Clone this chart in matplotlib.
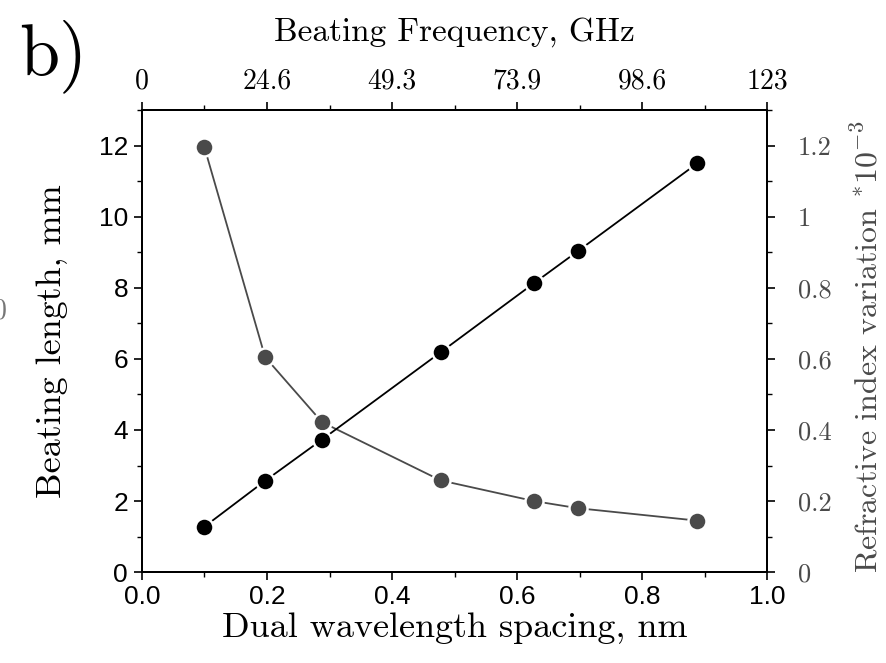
"""
Beating length / refractive index variation vs dual wavelength spacing
"""
import matplotlib
matplotlib.use('Agg')
import matplotlib.pyplot as plt
from matplotlib.ticker import MultipleLocator, FixedLocator

plt.rcParams['mathtext.fontset'] = 'cm'

# data
spacing_nm = [0.10, 0.197, 0.288, 0.478, 0.627, 0.697, 0.888]
beat_len_mm = [11.95, 6.05, 4.22, 2.58, 2.00, 1.80, 1.45]
dn_1e3 = [0.128, 0.257, 0.373, 0.619, 0.813, 0.903, 1.150]

x_ticks = [0.0, 0.2, 0.4, 0.6, 0.8, 1.0]
x_labels = ['0.0', '0.2', '0.4', '0.6', '0.8', '1.0']
freq_labels = ['0', '24.6', '49.3', '73.9', '98.6', '123']
dn_ticks = [0, 0.2, 0.4, 0.6, 0.8, 1.0, 1.2]
dn_labels = ['0', '0.2', '0.4', '0.6', '0.8', '1', '1.2']

SERIF = 'cmr10'
SANS = 'Liberation Sans'
GREY = '#4a4a4a'

fig = plt.figure(figsize=(8.87, 6.63), dpi=100)
ax = fig.add_axes([0.160, 0.137, 0.705, 0.697])
ax2 = ax.twinx()
ax3 = ax.twiny()

# beating length (grey, left axis)
ax.plot(spacing_nm, beat_len_mm, '-o', color=GREY, lw=1.3, ms=13,
        mfc=GREY, mec='white', mew=1.8, zorder=3)
# refractive index variation (black, right axis)
ax2.plot(spacing_nm, dn_1e3, '-o', color='black', lw=1.3, ms=13,
         mfc='black', mec='white', mew=1.8, zorder=3)

ax.set_xlim(0, 1.0)
ax.set_ylim(0, 13)
ax2.set_ylim(0, 1.3)
ax3.set_xlim(0, 1.0)

ax.xaxis.set_major_locator(FixedLocator(x_ticks))
ax.xaxis.set_minor_locator(MultipleLocator(0.1))
ax.set_xticklabels(x_labels)
ax.yaxis.set_major_locator(MultipleLocator(2))
ax.yaxis.set_minor_locator(MultipleLocator(1))
ax2.yaxis.set_major_locator(FixedLocator(dn_ticks))
ax2.yaxis.set_minor_locator(MultipleLocator(0.1))
ax2.set_yticklabels(dn_labels)
ax3.xaxis.set_major_locator(FixedLocator(x_ticks))
ax3.xaxis.set_minor_locator(MultipleLocator(0.1))
ax3.set_xticklabels(freq_labels)

for a in (ax, ax2, ax3):
    for s in a.spines.values():
        s.set_linewidth(1.3)
    a.tick_params(which='major', direction='out', length=6, width=1.2)
    a.tick_params(which='minor', direction='out', length=3.5, width=1.0)

ax.tick_params(axis='y', labelsize=19, pad=4)
ax.tick_params(axis='x', labelsize=19, pad=3)
for lab in ax.get_xticklabels() + ax.get_yticklabels():
    lab.set_family(SANS)
ax2.tick_params(axis='y', labelsize=19, labelcolor=GREY, pad=16)
for lab in ax2.get_yticklabels():
    lab.set_family(SERIF)
ax3.tick_params(axis='x', labelsize=20, pad=5)
for lab in ax3.get_xticklabels():
    lab.set_family(SERIF)

ax.set_xlabel('Dual wavelength spacing, nm', family=SERIF, fontsize=26)
ax.set_ylabel('Beating length, mm', family=SERIF, fontsize=26)
ax2.set_ylabel(r'Refractive index variation $^{*}10^{-3}$', family=SERIF,
               fontsize=23, color=GREY, rotation=90)
ax3.set_xlabel('Beating Frequency, GHz', family=SERIF, fontsize=24)
ax.xaxis.set_label_coords(0.5, -0.086)
ax.yaxis.set_label_coords(-0.118, 0.5)
ax2.yaxis.set_label_coords(1.135, 0.487)
ax3.xaxis.set_label_coords(0.5, 1.15)

fig.text(0.022, 0.915, 'b)', family=SERIF, fontsize=52, ha='left', va='center')
fig.text(0.0, 0.53, '0', family=SERIF, fontsize=20, color='#777777',
         ha='center', va='center')

fig.savefig('out.png', dpi=100)
plt.close(fig)
